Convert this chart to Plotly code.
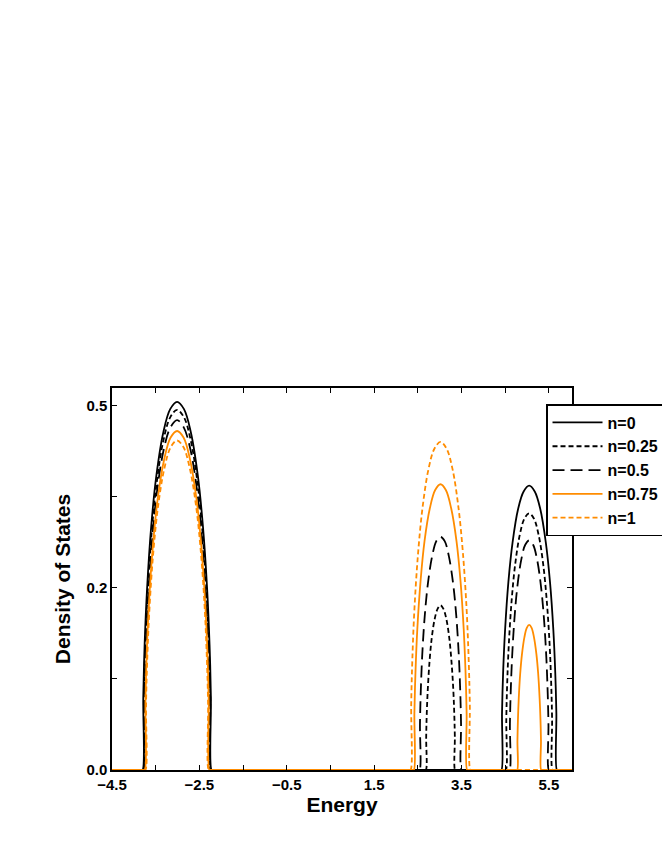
'''
density of states for several fillings n, redrawn with plotly.
'''

import plotly.graph_objects as go


# energies and DOS values, one pair of lists per filling
E_N0 = [-4.5,
        -3.830, -3.800, -3.784, -3.753, -3.697, -3.603, -3.484, -3.326, -3.168, -3.010,
        -2.852, -2.694, -2.536, -2.418, -2.323, -2.267, -2.236, -2.220, -2.190,
        4.385, 4.415, 4.428, 4.453, 4.498, 4.574, 4.669, 4.796, 4.923, 5.050,
        5.177, 5.304, 5.431, 5.526, 5.603, 5.647, 5.672, 5.685, 5.715,
        6.1]
DOS_N0 = [0,
          0, 0, 0.100, 0.172, 0.249, 0.334, 0.404, 0.463, 0.495, 0.505,
          0.495, 0.463, 0.404, 0.334, 0.249, 0.172, 0.100, 0, 0,
          0, 0, 0.078, 0.133, 0.192, 0.258, 0.312, 0.358, 0.382, 0.390,
          0.382, 0.358, 0.312, 0.258, 0.192, 0.133, 0.078, 0, 0,
          0]

E_N025 = [-4.5,
          -3.815, -3.785, -3.770, -3.739, -3.684, -3.591, -3.475, -3.320, -3.165, -3.010,
          -2.855, -2.700, -2.545, -2.429, -2.336, -2.282, -2.251, -2.235, -2.205,
          2.655, 2.685, 2.692, 2.705, 2.729, 2.769, 2.819, 2.886, 2.953, 3.020,
          3.087, 3.154, 3.221, 3.271, 3.312, 3.335, 3.348, 3.355, 3.385,
          4.485, 4.515, 4.526, 4.547, 4.585, 4.649, 4.729, 4.836, 4.943, 5.050,
          5.157, 5.264, 5.371, 5.451, 5.516, 5.553, 5.574, 5.585, 5.615,
          6.1]
DOS_N025 = [0,
            0, 0, 0.098, 0.168, 0.244, 0.327, 0.395, 0.453, 0.484, 0.494,
            0.484, 0.453, 0.395, 0.327, 0.244, 0.168, 0.098, 0, 0,
            0, 0, 0.045, 0.077, 0.111, 0.149, 0.181, 0.207, 0.221, 0.226,
            0.221, 0.207, 0.181, 0.149, 0.111, 0.077, 0.045, 0, 0,
            0, 0, 0.070, 0.120, 0.174, 0.233, 0.282, 0.323, 0.345, 0.352,
            0.345, 0.323, 0.282, 0.233, 0.174, 0.120, 0.070, 0, 0,
            0]

E_N05 = [-4.5,
         -3.800, -3.770, -3.755, -3.724, -3.671, -3.580, -3.466, -3.314, -3.162, -3.010,
         -2.858, -2.706, -2.554, -2.440, -2.349, -2.296, -2.265, -2.250, -2.220,
         2.510, 2.540, 2.550, 2.569, 2.602, 2.660, 2.732, 2.828, 2.924, 3.020,
         3.116, 3.212, 3.308, 3.380, 3.438, 3.471, 3.490, 3.500, 3.530,
         4.570, 4.600, 4.609, 4.627, 4.659, 4.713, 4.780, 4.870, 4.960, 5.050,
         5.140, 5.230, 5.320, 5.388, 5.442, 5.473, 5.491, 5.500, 5.530,
         6.1]
DOS_N05 = [0,
           0, 0, 0.096, 0.164, 0.237, 0.317, 0.384, 0.440, 0.470, 0.480,
           0.470, 0.440, 0.384, 0.317, 0.237, 0.164, 0.096, 0, 0,
           0, 0, 0.064, 0.109, 0.158, 0.212, 0.256, 0.293, 0.314, 0.320,
           0.314, 0.293, 0.256, 0.212, 0.158, 0.109, 0.064, 0, 0,
           0, 0, 0.063, 0.107, 0.155, 0.208, 0.252, 0.289, 0.309, 0.315,
           0.309, 0.289, 0.252, 0.208, 0.155, 0.107, 0.063, 0, 0,
           0]

E_N075 = [-4.5,
          -3.780, -3.750, -3.735, -3.706, -3.654, -3.565, -3.454, -3.306, -3.158, -3.010,
          -2.862, -2.714, -2.566, -2.455, -2.366, -2.314, -2.285, -2.270, -2.240,
          2.380, 2.410, 2.422, 2.447, 2.489, 2.563, 2.654, 2.776, 2.898, 3.020,
          3.142, 3.264, 3.386, 3.478, 3.551, 3.593, 3.618, 3.630, 3.660,
          4.745, 4.775, 4.781, 4.792, 4.811, 4.844, 4.885, 4.940, 4.995, 5.050,
          5.105, 5.160, 5.215, 5.256, 5.289, 5.309, 5.320, 5.325, 5.355,
          6.1]
DOS_N075 = [0,
            0, 0, 0.093, 0.159, 0.229, 0.307, 0.372, 0.426, 0.456, 0.465,
            0.456, 0.426, 0.372, 0.307, 0.229, 0.159, 0.093, 0, 0,
            0, 0, 0.078, 0.134, 0.193, 0.259, 0.314, 0.359, 0.384, 0.392,
            0.384, 0.359, 0.314, 0.259, 0.193, 0.134, 0.078, 0, 0,
            0, 0, 0.040, 0.068, 0.098, 0.132, 0.159, 0.182, 0.195, 0.199,
            0.195, 0.182, 0.159, 0.132, 0.098, 0.068, 0.040, 0, 0,
            0]

E_N1 = [-4.5,
        -3.765, -3.735, -3.721, -3.692, -3.641, -3.554, -3.445, -3.300, -3.155, -3.010,
        -2.865, -2.720, -2.575, -2.466, -2.379, -2.329, -2.300, -2.285, -2.255,
        2.305, 2.335, 2.349, 2.376, 2.424, 2.506, 2.609, 2.746, 2.883, 3.020,
        3.157, 3.294, 3.431, 3.534, 3.616, 3.664, 3.691, 3.705, 3.735,
        6.1]
DOS_N1 = [0,
          0, 0, 0.090, 0.154, 0.223, 0.299, 0.362, 0.414, 0.443, 0.452,
          0.443, 0.414, 0.362, 0.299, 0.223, 0.154, 0.090, 0, 0,
          0, 0, 0.090, 0.153, 0.222, 0.297, 0.360, 0.413, 0.441, 0.450,
          0.441, 0.413, 0.360, 0.297, 0.222, 0.153, 0.090, 0, 0,
          0]

LABELS = ['n=0', 'n=0.25', 'n=0.5', 'n=0.75', 'n=1']

X_TICKS = [-4.5, -2.5, -0.5, 1.5, 3.5, 5.5]
X_TICK_TEXT = ['\u22124.5', '\u22122.5', '\u22120.5', '1.5', '3.5', '5.5']
Y_TICKS = [0, 0.25, 0.5]
Y_TICK_TEXT = ['0.0', '0.2', '0.5']


FONT = 'Liberation Sans, Arial, sans-serif'
ORANGE = '#ff8c00'

curves = [
    (E_N0, DOS_N0, 'black', 'solid'),
    (E_N025, DOS_N025, 'black', '5px,3px'),
    (E_N05, DOS_N05, 'black', '12px,6px'),
    (E_N075, DOS_N075, ORANGE, 'solid'),
    (E_N1, DOS_N1, ORANGE, '5px,3px'),
]

data = [go.Scatter(
    x=e,
    y=d,
    name=name,
    mode='lines',
    line=dict(color=color, width=1.8, dash=dash, shape='spline', smoothing=1),
) for (e, d, color, dash), name in zip(curves, LABELS)]

axis_common = dict(
    showline=True,
    linecolor='black',
    linewidth=1.5,
    mirror='ticks',
    ticks='inside',
    ticklen=5,
    tickwidth=1.2,
    tickcolor='black',
    showgrid=False,
    zeroline=False,
    tickfont=dict(family=FONT, size=15, color='black', weight='bold'),
)

layout = go.Layout(
    width=670,
    height=867,
    # the page adds 8px of body margin, so the plot box is shifted back by that
    margin=dict(l=104, r=106, t=380, b=105),
    paper_bgcolor='white',
    plot_bgcolor='white',
    xaxis=dict(
        range=[-4.5, 6.03],
        tickmode='array',
        tickvals=X_TICKS,
        ticktext=X_TICK_TEXT,
        minor=dict(dtick=1, tick0=-4.5, ticks='inside', ticklen=5,
                   tickwidth=1.2, tickcolor='black', showgrid=False),
        title=dict(text='Energy', standoff=2,
                   font=dict(family=FONT, size=21, color='black', weight='bold')),
        **axis_common
    ),
    yaxis=dict(
        range=[0, 0.524],
        tickmode='array',
        tickvals=Y_TICKS,
        ticktext=Y_TICK_TEXT,
        minor=dict(dtick=0.125, tick0=0, ticks='inside', ticklen=5,
                   tickwidth=1.2, tickcolor='black', showgrid=False),
        title=dict(text='Density of States', standoff=10,
                   font=dict(family=FONT, size=21, color='black', weight='bold')),
        **axis_common
    ),
    legend=dict(
        x=0.9435,
        y=0.958,
        xanchor='left',
        yanchor='top',
        bgcolor='white',
        bordercolor='black',
        borderwidth=1.5,
        font=dict(family=FONT, size=16, color='black', weight='bold'),
        tracegroupgap=0,
        itemwidth=50,
    ),
    showlegend=True,
)

fig = go.Figure(data=data, layout=layout)
fig.write_html('out.html')
